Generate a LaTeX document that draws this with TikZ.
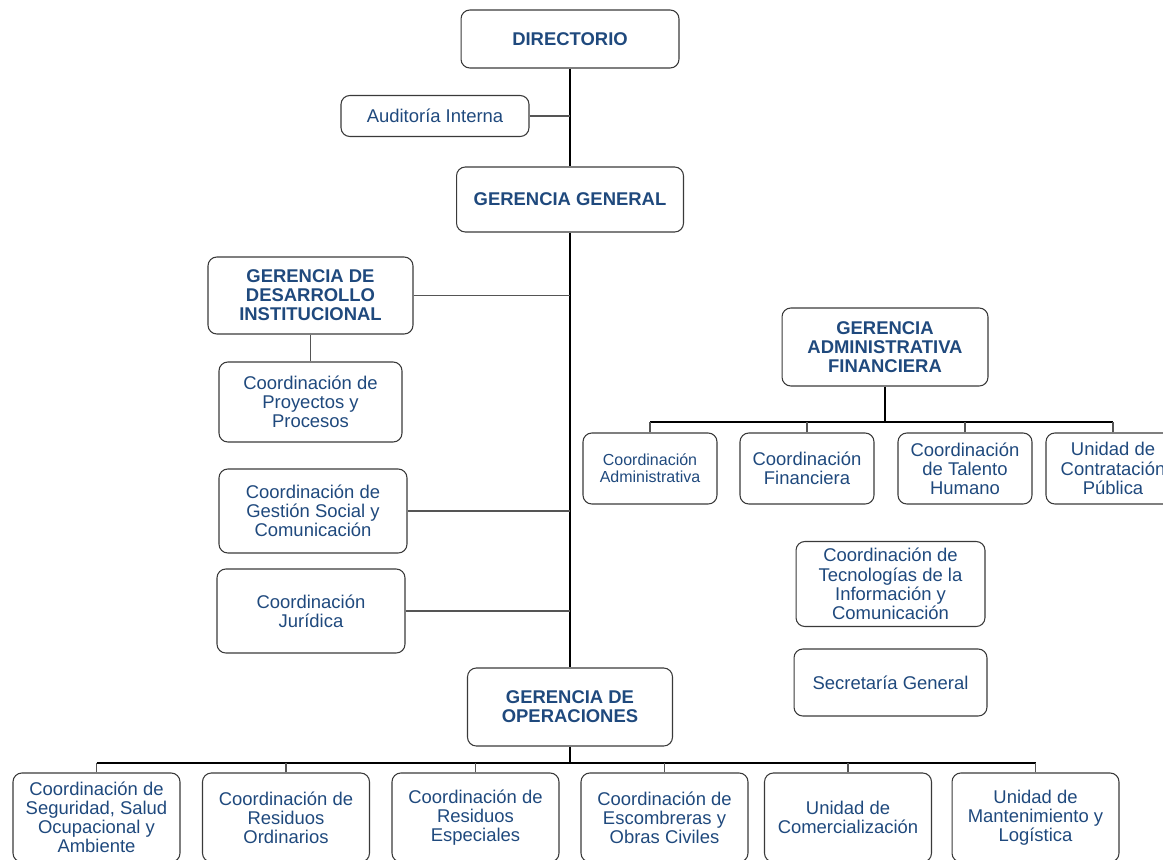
\documentclass[tikz,border=0pt]{standalone}
\usepackage{fontspec}
\setmainfont{Liberation Sans}
\usepackage{xcolor}
\usepackage{tikz}
\usetikzlibrary{calc}

\definecolor{azul}{RGB}{31,73,125}
\definecolor{borde}{RGB}{58,58,58}
\definecolor{gris}{RGB}{85,85,85}

\begin{document}
\begin{tikzpicture}[x=0.02cm, y=-0.02cm,
  caja/.style={rectangle, rounded corners=5pt, draw=borde, line width=0.6pt, align=center, text=azul, inner sep=1pt, font=\fontsize{10.5}{10.9}\selectfont},
  gerencia/.style={caja, font=\bfseries\fontsize{10.5}{10.8}\selectfont},
  chica/.style={caja, font=\fontsize{9.1}{9.5}\selectfont},
  troncal/.style={draw=black, line width=1.1pt},
  bus/.style={draw=black, line width=0.8pt},
  rama/.style={draw=gris, line width=0.6pt}]
 \useasboundingbox (0,0) rectangle (1163,859);
 \node [gerencia, minimum width=4.36cm, minimum height=1.16cm] (dir)    at (570,39)      {DIRECTORIO};
 \node [caja,     minimum width=3.76cm, minimum height=0.82cm] (aud)    at (435,116)     {Auditoría Interna};
 \node [gerencia, minimum width=4.54cm, minimum height=1.30cm] (gg)     at (570,199.5)   {GERENCIA GENERAL};
 \node [gerencia, minimum width=4.10cm, minimum height=1.54cm] (gdi)    at (310.5,295.5) {GERENCIA DE\\DESARROLLO\\INSTITUCIONAL};
 \node [caja,     minimum width=3.66cm, minimum height=1.60cm] (proy)   at (310.5,402)   {Coordinación de\\Proyectos y\\Procesos};
 \node [caja,     minimum width=3.76cm, minimum height=1.68cm] (gsoc)   at (313,511)     {Coordinación de\\Gestión Social y\\Comunicación};
 \node [caja,     minimum width=3.76cm, minimum height=1.68cm] (jur)    at (311,611)     {Coordinación\\Jurídica};
 \node [gerencia, minimum width=4.10cm, minimum height=1.56cm] (go)     at (570,707)     {GERENCIA DE\\OPERACIONES};
 \node [gerencia, minimum width=4.12cm, minimum height=1.56cm] (gaf)    at (885,347)     {GERENCIA\\ADMINISTRATIVA\\FINANCIERA};
 \node [chica,    minimum width=2.68cm, minimum height=1.42cm] (cadm)   at (650,468.5)   {Coordinación\\Administrativa};
 \node [caja,     minimum width=2.68cm, minimum height=1.42cm] (cfin)   at (807,468.5)   {Coordinación\\Financiera};
 \node [caja,     minimum width=2.68cm, minimum height=1.42cm] (ctal)   at (965,468.5)   {Coordinación\\de Talento\\Humano};
 \node [caja,     minimum width=2.68cm, minimum height=1.42cm] (ucon)   at (1113,468.5)  {Unidad de\\Contratación\\Pública};
 \node [caja,     minimum width=3.78cm, minimum height=1.70cm] (ctic)   at (890.5,584)   {Coordinación de\\Tecnologías de la\\Información y\\Comunicación};
 \node [caja,     minimum width=3.86cm, minimum height=1.34cm] (sgen)   at (890.5,682.5) {Secretaría General};
 \node [caja,     minimum width=3.34cm, minimum height=1.78cm] (segur)  at (96.5,817.5)  {Coordinación de\\Seguridad, Salud\\Ocupacional y\\Ambiente};
 \node [caja,     minimum width=3.34cm, minimum height=1.78cm] (resord) at (286,817.5)   {Coordinación de\\Residuos\\Ordinarios};
 \node [caja,     minimum width=3.34cm, minimum height=1.78cm] (resesp) at (475.5,817.5) {Coordinación de\\Residuos\\Especiales};
 \node [caja,     minimum width=3.34cm, minimum height=1.78cm] (escomb) at (664.5,817.5) {Coordinación de\\Escombreras y\\Obras Civiles};
 \node [caja,     minimum width=3.34cm, minimum height=1.78cm] (comer)  at (848,817.5)   {Unidad de\\Comercialización};
 \node [caja,     minimum width=3.34cm, minimum height=1.78cm] (mant)   at (1035.5,817.5){Unidad de\\Mantenimiento y\\Logística};
 \coordinate (busgaf) at (885,422);
 \coordinate (busgo)  at (570,763);
  \draw [bus]     (dir) -- (gg);
  \draw [rama]    (aud.east) -- (aud.east -| dir.south);
  \draw [troncal] (gg) -- (go);
  \draw [rama]    (gdi.east) -- (gdi.east -| gg.south);
  \draw [rama]    (gdi) -- (proy);
  \draw [rama]    (gsoc.east) -- (gsoc.east -| gg.south);
  \draw [rama]    (jur.east) -- (jur.east -| gg.south);
  \draw [troncal] (gaf) -- (busgaf);
  \draw [bus]     (cadm.north |- busgaf) -- (ucon.north |- busgaf);
  \draw [rama]    (cadm) -- (cadm.north |- busgaf);
  \draw [rama]    (cfin) -- (cfin.north |- busgaf);
  \draw [rama]    (ctal) -- (ctal.north |- busgaf);
  \draw [rama]    (ucon) -- (ucon.north |- busgaf);
  \draw [troncal] (go) -- (busgo);
  \draw [bus]     (segur.north |- busgo) -- (mant.north |- busgo);
  \draw [rama]    (segur) -- (segur.north |- busgo);
  \draw [rama]    (resord) -- (resord.north |- busgo);
  \draw [rama]    (resesp) -- (resesp.north |- busgo);
  \draw [rama]    (escomb) -- (escomb.north |- busgo);
  \draw [rama]    (comer) -- (comer.north |- busgo);
  \draw [rama]    (mant) -- (mant.north |- busgo);
\end{tikzpicture}
\end{document}
